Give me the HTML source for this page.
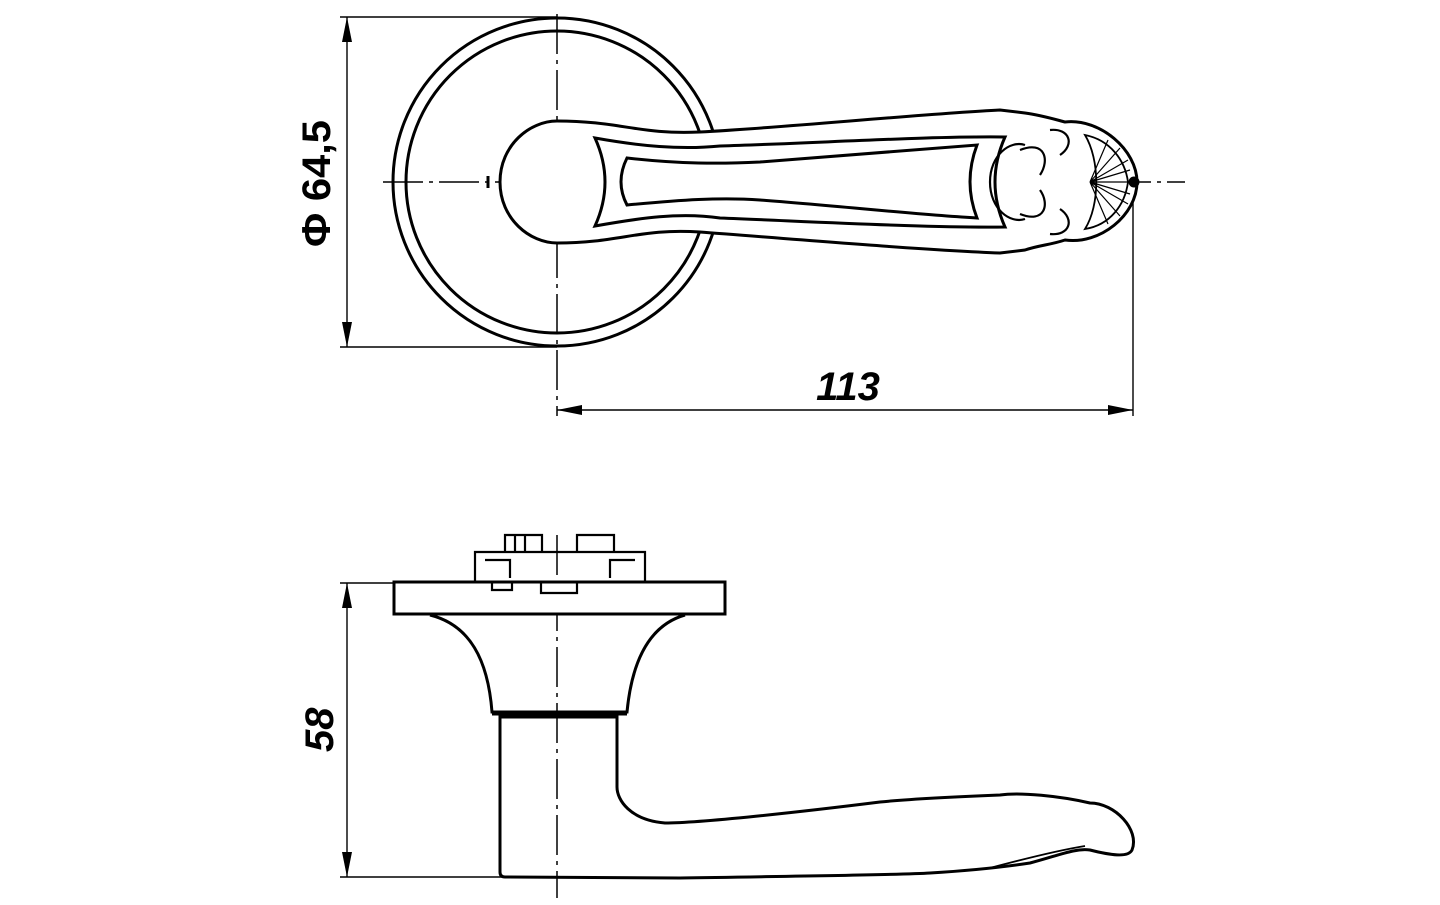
<!DOCTYPE html>
<html><head><style>html,body{margin:0;padding:0;background:#fff}</style></head><body>
<svg width="1440" height="900" viewBox="0 0 1440 900" xmlns="http://www.w3.org/2000/svg" font-family="Liberation Sans, sans-serif">
<g fill="none" stroke="#000">
<!-- centerlines -->
<line x1="383" y1="182" x2="1185" y2="182" stroke-width="1.5" stroke-dasharray="40,6,4,6"/>
<line x1="557" y1="14" x2="557" y2="416" stroke-width="1.5" stroke-dasharray="40,6,4,6"/>
<line x1="557" y1="535" x2="557" y2="898" stroke-width="1.5" stroke-dasharray="40,6,4,6"/>
<!-- rose -->
<circle cx="557" cy="182" r="164" stroke-width="3"/>
<circle cx="557" cy="182" r="151" stroke-width="3"/>
<!-- dims top -->
<line x1="340" y1="17" x2="557" y2="17" stroke-width="1.4"/>
<line x1="340" y1="347" x2="557" y2="347" stroke-width="1.4"/>
<line x1="347" y1="17" x2="347" y2="347" stroke-width="1.4"/>
<line x1="1133" y1="182" x2="1133" y2="416" stroke-width="1.4"/>
<line x1="557" y1="410" x2="1133" y2="410" stroke-width="1.4"/>
<!-- handle top view -->
<path d="M557,121 C530,121 500,145 500,182 C500,219 530,243 557,243 C620,243 640,228 700,232 C780,238 920,250 1000,253 L1025,250 C1040,245 1050,245 1065,240 C1100,245 1137,215 1137,182 C1137,150 1100,118 1065,122 C1050,118 1040,115 1025,113 L1000,110 C920,114 780,128 700,132 C640,135 620,121 557,121 Z" stroke-width="3" fill="#fff"/>
<path d="M595,138 Q615,182 595,226 C640,218 680,212 720,218 C820,222 930,228 1005,227 Q985,182 1005,137 C930,136 820,143 720,146 C680,150 640,146 595,138 Z" stroke-width="3"/>
<path d="M627,158 Q615,182 627,205 C680,200 720,197 760,200 C840,206 920,215 977,218 Q963,182 977,145 C920,150 840,156 760,162 C720,164 680,164 627,158 Z" stroke-width="3"/>
<path d="M990,182 C990,155 1010,140 1025,145 M990,182 C990,209 1010,224 1025,219 M1020,150 C1045,140 1050,160 1040,175 M1020,214 C1045,224 1050,204 1040,190 M1050,130 C1070,128 1075,145 1060,155 M1050,234 C1070,236 1075,219 1060,209" stroke-width="2.2"/>
<path d="M1085,135 C1110,140 1125,160 1128,182 C1125,205 1110,225 1085,229 C1100,205 1100,160 1085,135 Z" stroke-width="1.8"/>
<g stroke-width="1.2"><path d="M1090,182 L1128,160 M1090,182 L1130,170 M1090,182 L1130,182 M1090,182 L1130,194 M1090,182 L1128,204 M1090,182 L1120,148 M1090,182 L1120,216 M1090,182 L1108,140 M1090,182 L1108,224"/></g>
<circle cx="1134" cy="182" r="5" fill="#000"/>
<line x1="488" y1="176" x2="488" y2="188" stroke-width="3"/>
<!-- side view -->
<line x1="340" y1="583" x2="394" y2="583" stroke-width="1.4"/>
<line x1="340" y1="877" x2="505" y2="877" stroke-width="1.4"/>
<line x1="347" y1="583" x2="347" y2="877" stroke-width="1.4"/>
<rect x="394" y="582" width="331" height="32" stroke-width="3" fill="#fff"/>
<path d="M430,615 C470,625 488,660 492,712 L627,712 C632,660 650,625 685,615" stroke-width="3"/>
<path d="M500,717 L500,872 Q500,877 505,877 L680,878 C800,876 900,875 930,873 C980,870 1010,866 1030,863 C1060,855 1075,848 1090,850 C1110,855 1128,858 1132,850 C1140,830 1115,803 1090,803 C1060,796 1020,792 1000,795 C950,797 900,800 880,802 C800,812 700,823 665,823 C630,820 617,800 617,787 L617,717 Z" stroke-width="3"/>
<line x1="492" y1="714" x2="627" y2="714" stroke-width="3"/>
<path d="M475,582 L475,552 L645,552 L645,582 M505,552 L505,535 L542,535 L542,552 M577,552 L577,535 L614,535 L614,552 M492,582 L492,590 L512,590 L512,582 M541,582 L541,593 L577,593 L577,582 M485,560 L510,560 L510,578 M635,560 L610,560 L610,578 M515,535 L515,552 M525,535 L525,552" stroke-width="2.2"/>
<path d="M990,868 C1020,860 1060,850 1085,846" stroke-width="1.8"/>
</g>
<!-- arrows -->
<g fill="#000">
<polygon points="347,17 342,42 352,42"/>
<polygon points="347,347 342,322 352,322"/>
<polygon points="557,410 582,405 582,415"/>
<polygon points="1133,410 1108,405 1108,415"/>
<polygon points="347,583 342,608 352,608"/>
<polygon points="347,877 342,852 352,852"/>
</g>
<text transform="translate(330,247) rotate(-90)" font-size="40" font-weight="bold" textLength="127" lengthAdjust="spacingAndGlyphs">Φ 64,5</text>
<text x="848" y="400" font-size="40" font-weight="bold" font-style="italic" text-anchor="middle">113</text>
<text transform="translate(333,752) rotate(-90)" font-size="40" font-weight="bold" font-style="italic">58</text>
</svg>
</body></html>
